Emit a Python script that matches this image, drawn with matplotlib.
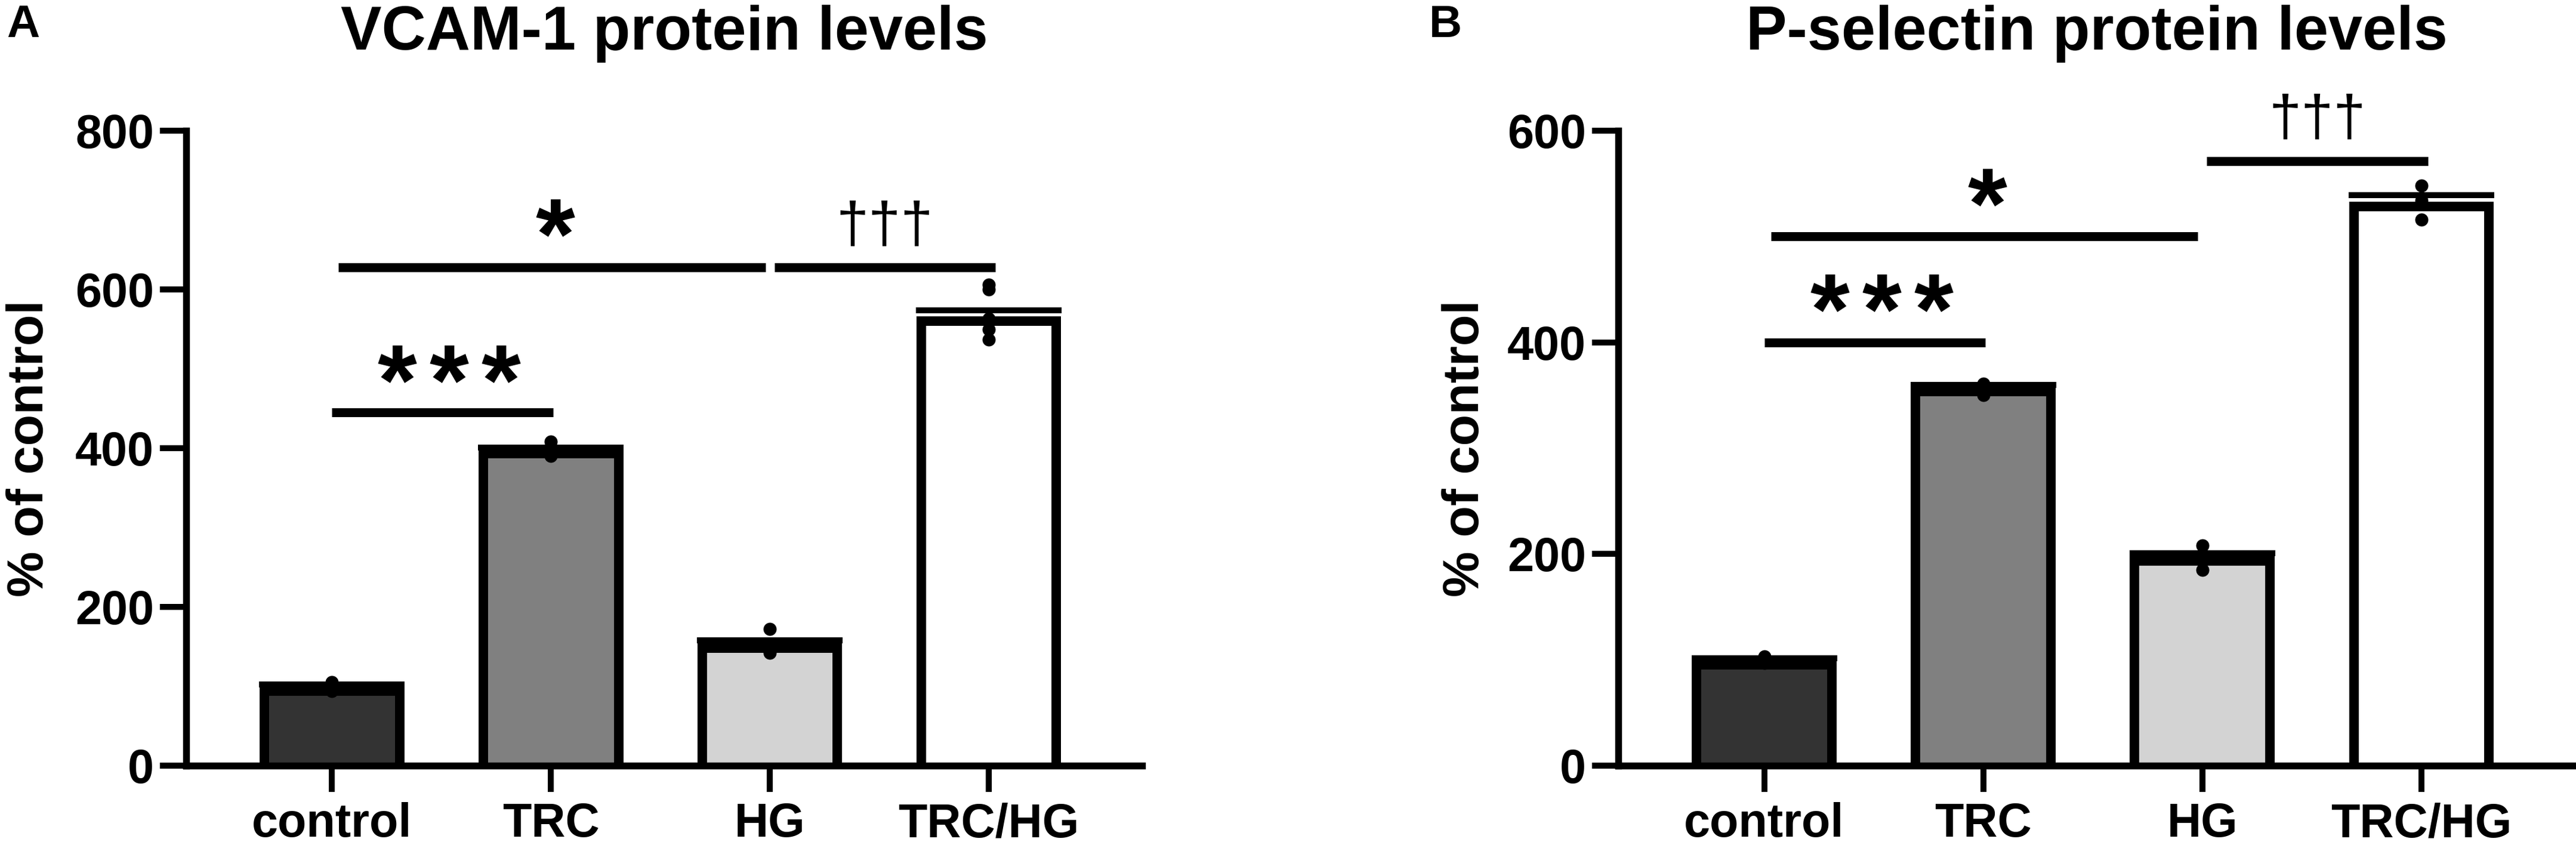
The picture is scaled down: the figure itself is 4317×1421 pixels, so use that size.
import matplotlib
matplotlib.use('Agg')
import matplotlib.pyplot as plt
import numpy as np
from matplotlib.textpath import TextPath
from matplotlib.font_manager import FontProperties
from matplotlib.lines import Line2D

W, H, DPI = 4317, 1421, 100
plt.rcParams['font.family'] = ['Liberation Sans', 'DejaVu Sans']

# ---------------- data ----------------
categories = ['control', 'TRC', 'HG', 'TRC/HG']
bar_colors = ['#333333', '#808080', '#d3d3d3', '#ffffff']

vcam_mean = [100, 399, 154, 566]
vcam_sem = [2, 2, 4, 8]
vcam_points = [[105, 101, 94], [408, 399, 390], [172, 150, 142],
               [606, 600, 563, 550, 537]]
vcam_ticks = [0, 200, 400, 600, 800]

psel_mean = [100, 358, 198, 533]
psel_sem = [1.5, 2, 3, 6]
psel_points = [[103, 100, 97], [361, 356, 350], [208, 199, 185],
               [548, 534, 516]]
psel_ticks = [0, 200, 400, 600]

# comparisons: (from, to, bar height, label, label x, label y)
vcam_sig = [(0.0, 1.01, 445, '***', 0.535, 507),
            (0.03, 1.98, 628, '*', 1.02, 691),
            (2.02, 3.03, 628, '\u2020\u2020\u2020', 2.525, 684)]
psel_sig = [(0.0, 1.01, 400, '***', 0.537, 447),
            (0.03, 1.98, 500, '*', 1.02, 547),
            (2.02, 3.03, 571, '\u2020\u2020\u2020', 2.525, 614)]

titles = ['VCAM-1 protein levels', 'P-selectin protein levels']
panel_letters = ['A', 'B']
ylabel = '% of control'


def pt(p):
    return p * 72.0 / DPI


fig = plt.figure(figsize=(W / DPI, H / DPI), dpi=DPI)
fig.patch.set_facecolor('white')


def ink_text(ax, x, y, s, ink_h_px, weight, dx_px=0.0):
    """Place text so that its ink is centred on (x, y) in data units."""
    fp = FontProperties(family='Liberation Sans', weight=weight)
    ext = TextPath((0, 0), s, size=100, prop=fp).get_extents()
    F = pt(ink_h_px) * 100.0 / ext.height
    cx_px = (ext.x0 + ext.x1) / 2 * F / 100 * DPI / 72.0
    cy_px = (ext.y0 + ext.y1) / 2 * F / 100 * DPI / 72.0
    px, py = ax.transData.transform((x, y))
    ox, oy = ax.transData.inverted().transform((px + dx_px - cx_px,
                                                py - cy_px))
    ax.text(ox, oy, s, fontsize=F, fontweight=weight, ha='left',
            va='baseline', clip_on=False, family='Liberation Sans')


def panel(rect, means, sems, points, ticks, sig, title, letter, letter_x,
          ylab_x):
    ax = fig.add_axes(rect)
    ax.set_xlim(-0.666, 3.70)
    ax.set_ylim(0, ticks[-1])
    x = np.arange(len(categories))
    bars = ax.bar(x, means, width=0.661, color=bar_colors, linewidth=0,
                  zorder=2)
    for b in bars:
        x0 = b.get_x()
        x1 = x0 + b.get_width()
        h = b.get_height()
        ln = Line2D([x0, x0, x1, x1], [0, h, h, 0], lw=pt(32), color='black',
                    solid_joinstyle='miter', zorder=2.5)
        ax.add_line(ln)
        ln.set_clip_path(b)
    eb = ax.errorbar(x, means, yerr=[np.zeros(len(x)), sems], fmt='none',
                     ecolor='black', elinewidth=pt(10), capsize=pt(122),
                     capthick=pt(10), zorder=3)
    eb[1][0].set_visible(False)
    for xi, pts in zip(x, points):
        ax.plot([xi] * len(pts), pts, 'o', color='black', ms=pt(22),
                mew=0, zorder=4, clip_on=False)
    for (a, b_, yv, lab, lx, ly) in sig:
        ax.plot([a, b_], [yv, yv], color='black', lw=pt(15),
                solid_capstyle='butt', clip_on=False, zorder=4)
        if lab.startswith('*'):
            n = len(lab)
            for k, ch in enumerate(lab):
                ink_text(ax, lx, ly, ch, 63, 'bold',
                         dx_px=(k - (n - 1) / 2) * 87)
        else:
            ink_text(ax, lx, ly, lab, 77, 'normal')

    ax.set_yticks(ticks)
    ax.set_xticks(x)
    ax.set_xticklabels(categories)
    for s in ['top', 'right']:
        ax.spines[s].set_visible(False)
    for s in ['left', 'bottom']:
        ax.spines[s].set_linewidth(pt(11.5))
    ax.tick_params(axis='both', direction='out', length=pt(44), width=pt(10),
                   labelsize=57)
    ax.tick_params(axis='y', pad=pt(10))
    ax.tick_params(axis='x', pad=pt(17))
    for lbl in ax.get_xticklabels() + ax.get_yticklabels():
        lbl.set_fontweight('bold')

    bb = ax.get_position()
    fig.text((bb.x0 + bb.x1) / 2, 1 - 83 / H, title, ha='center',
             va='baseline', fontsize=74, fontweight='bold')
    fig.text(letter_x / W, 1 - 62 / H, letter, ha='left', va='baseline',
             fontsize=55, fontweight='bold')
    fig.text(ylab_x / W, 1 - 751 / H, ylabel, rotation=90,
             rotation_mode='anchor', ha='center', va='baseline',
             fontsize=62, fontweight='bold')
    return ax


bottom = (H - 1283) / H
height = (1283 - 219) / H
panel([312 / W, bottom, (1914 - 312) / W, height], vcam_mean, vcam_sem,
      vcam_points, vcam_ticks, vcam_sig, titles[0], panel_letters[0], 11, 72)
panel([2712 / W, bottom, (4315 - 2712) / W, height], psel_mean, psel_sem,
      psel_points, psel_ticks, psel_sig, titles[1], panel_letters[1], 2395,
      2478)

fig.savefig('out.png', dpi=DPI, facecolor='white')
